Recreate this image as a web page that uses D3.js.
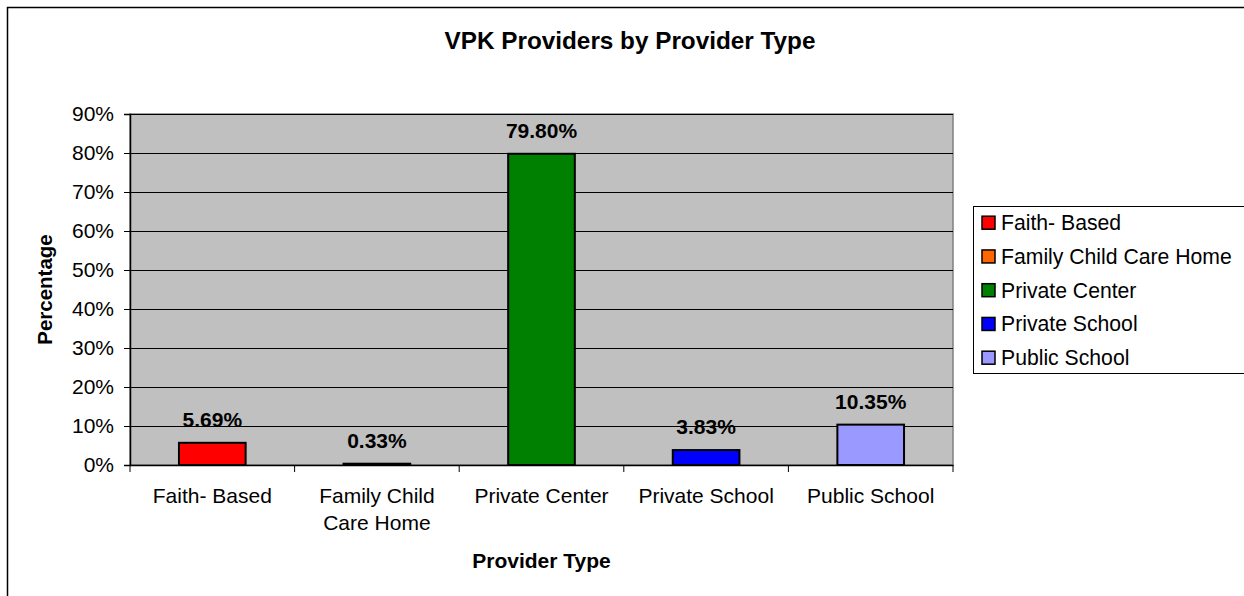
<!DOCTYPE html>
<html>
<head>
<meta charset="utf-8">
<script src="https://cdn.jsdelivr.net/npm/d3@7"></script>
<style>
  body { margin: 0; background: #fff; }
  text { font-family: "Liberation Sans", Arial, sans-serif; }
</style>
</head>
<body>
<div id="chart"></div>
<script>
// Data
const categories = ["Faith- Based", "Family Child Care Home", "Private Center", "Private School", "Public School"];
const tickLines = [["Faith- Based"], ["Family Child", "Care Home"], ["Private Center"], ["Private School"], ["Public School"]];
const values = [5.69, 0.33, 79.80, 3.83, 10.35];
const colors = ["#FF0000", "#FF6600", "#008000", "#0000FF", "#9999FF"];
const yTicks = [0, 10, 20, 30, 40, 50, 60, 70, 80, 90];

const width = 1244;
const height = 596;
const plot = {left: 130, right: 953, top: 114, bottom: 465};

const svg = d3.select("#chart").append("svg")
    .attr("width", width)
    .attr("height", height);

// Outer chart border
svg.append("rect")
    .attr("x", 7.5).attr("y", 7.5)
    .attr("width", 1400).attr("height", 800)
    .attr("fill", "#fff")
    .attr("stroke", "#000")
    .attr("stroke-width", 1.5);

// Title
svg.append("text")
    .attr("x", 630)
    .attr("y", 49)
    .attr("text-anchor", "middle")
    .style("font-size", "24.3px")
    .style("font-weight", "bold")
    .text("VPK Providers by Provider Type");

const x = d3.scaleBand()
    .domain(categories)
    .range([plot.left, plot.right]);

const y = d3.scaleLinear()
    .domain([0, 90])
    .range([plot.bottom, plot.top]);

// Plot background
svg.append("rect")
    .attr("x", plot.left).attr("y", plot.top)
    .attr("width", plot.right - plot.left)
    .attr("height", plot.bottom - plot.top)
    .attr("fill", "#C0C0C0")
    .attr("stroke", "#808080")
    .attr("stroke-width", 1.5);

// Gridlines
svg.append("g")
    .attr("transform", `translate(${plot.left},0)`)
    .call(d3.axisLeft(y).tickValues(yTicks.slice(1)).tickSize(-(plot.right - plot.left)).tickFormat(""))
    .call(g => g.select(".domain").remove())
    .call(g => g.selectAll("line").attr("stroke", "#000").attr("stroke-width", 1));

// Y axis
svg.append("g")
    .attr("transform", `translate(${plot.left},0)`)
    .call(d3.axisLeft(y).tickValues(yTicks).tickSize(6).tickPadding(10).tickFormat(d => d + "%"))
    .call(g => g.select(".domain").attr("stroke", "#000").attr("stroke-width", 1.5))
    .call(g => g.selectAll("line").attr("stroke", "#000"))
    .call(g => g.selectAll("text").style("font-size", "21px").attr("fill", "#000"));

// Bars
const barFrac = 0.405;
const barW = x.bandwidth() * barFrac;
svg.append("g")
    .selectAll("rect")
    .data(values)
    .enter().append("rect")
    .attr("x", (d, i) => x(categories[i]) + (x.bandwidth() - barW) / 2)
    .attr("y", d => y(d))
    .attr("width", barW)
    .attr("height", d => y(0) - y(d))
    .attr("fill", (d, i) => colors[i])
    .attr("stroke", "#000")
    .attr("stroke-width", 2);

// Value labels
svg.append("g")
    .selectAll("text")
    .data(values)
    .enter().append("text")
    .attr("x", (d, i) => x(categories[i]) + x.bandwidth() / 2)
    .attr("y", d => y(d) - 16)
    .attr("text-anchor", "middle")
    .style("font-size", "21px")
    .style("font-weight", "bold")
    .text(d => d.toFixed(2) + "%");

// X axis
const xAxis = svg.append("g")
    .attr("transform", `translate(0,${plot.bottom})`)
    .call(d3.axisBottom(x).tickSize(0).tickFormat(""))
    .call(g => g.select(".domain").attr("stroke", "#000").attr("stroke-width", 1.5));

// category separator ticks
xAxis.selectAll(".sep")
    .data(d3.range(categories.length + 1))
    .enter().append("line")
    .attr("x1", i => plot.left + i * x.step())
    .attr("x2", i => plot.left + i * x.step())
    .attr("y1", 0).attr("y2", 7)
    .attr("stroke", "#000");

// category labels
svg.append("g")
    .selectAll("text")
    .data(tickLines)
    .enter().append("text")
    .attr("x", (d, i) => x(categories[i]) + x.bandwidth() / 2)
    .attr("y", 503)
    .attr("text-anchor", "middle")
    .style("font-size", "21px")
    .selectAll("tspan")
    .data(d => d)
    .enter().append("tspan")
    .attr("x", function() { return this.parentNode.getAttribute("x"); })
    .attr("dy", (d, i) => i === 0 ? 0 : 27)
    .text(d => d);

// Axis titles
svg.append("text")
    .attr("x", (plot.left + plot.right) / 2)
    .attr("y", 568)
    .attr("text-anchor", "middle")
    .style("font-size", "21px")
    .style("font-weight", "bold")
    .text("Provider Type");

svg.append("text")
    .attr("transform", `translate(52,${(plot.top + plot.bottom) / 2}) rotate(-90)`)
    .attr("text-anchor", "middle")
    .style("font-size", "20.5px")
    .style("font-weight", "bold")
    .text("Percentage");

// Legend
const legend = svg.append("g");
legend.append("rect")
    .attr("x", 973.5).attr("y", 206.5)
    .attr("width", 280).attr("height", 167)
    .attr("fill", "#fff")
    .attr("stroke", "#000")
    .attr("stroke-width", 1);

const items = legend.selectAll(".item")
    .data(categories)
    .enter().append("g")
    .attr("transform", (d, i) => `translate(982,${222.7 + i * 33.75})`);

items.append("rect")
    .attr("x", 0).attr("y", -6.5)
    .attr("width", 13).attr("height", 13)
    .attr("fill", (d, i) => colors[i])
    .attr("stroke", "#000")
    .attr("stroke-width", 1.5);

items.append("text")
    .attr("x", 19)
    .attr("y", 7.5)
    .style("font-size", "21.2px")
    .text(d => d);
</script>
</body>
</html>
